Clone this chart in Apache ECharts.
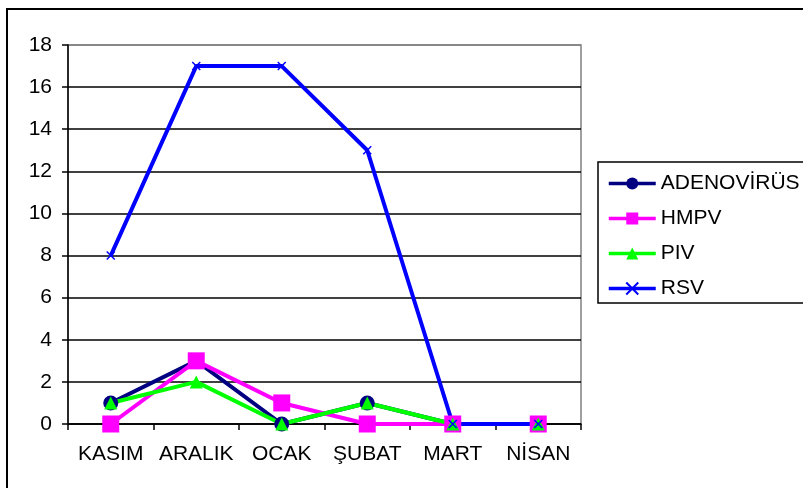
<!DOCTYPE html>
<html>
<head>
<meta charset="utf-8">
<script src="https://cdn.jsdelivr.net/npm/echarts@6/dist/echarts.min.js"></script>
<style>
  html, body { margin: 0; padding: 0; background: #fff; }
  #chart { width: 803px; height: 488px; }
</style>
</head>
<body>
<div id="chart"></div>
<script>
// Monthly virus counts
const months = ['KASIM', 'ARALIK', 'OCAK', 'ŞUBAT', 'MART', 'NİSAN'];
const adenovirus = [1, 3, 0, 1, 0, 0];
const hmpv = [0, 3, 1, 0, 0, 0];
const piv = [1, 2, 0, 1, 0, 0];
const rsv = [8, 17, 17, 13, 0, 0];
const yTicks = [0, 2, 4, 6, 8, 10, 12, 14, 16, 18];

const FONT = '"Liberation Sans", Arial, sans-serif';
const crossPath = 'path://M0,0L10,10M10,0L0,10';

const chart = echarts.init(document.getElementById('chart'), null, { renderer: 'canvas' });

function lineSeries(name, data, color, symbol, size, extraItem) {
  return {
    name: name,
    type: 'line',
    data: data,
    symbol: symbol,
    symbolSize: size,
    showAllSymbol: true,
    animation: false,
    lineStyle: { color: color, width: 4 },
    itemStyle: Object.assign({ color: color, borderWidth: 0 }, extraItem || {}),
    emphasis: { disabled: true }
  };
}

chart.setOption({
  backgroundColor: '#ffffff',
  animation: false,
  textStyle: { fontFamily: FONT },
  grid: {
    left: 68, right: 222, top: 45, bottom: 64,
    show: true, borderColor: '#808080', borderWidth: 1.5, backgroundColor: 'transparent'
  },
  graphic: [
    {
      type: 'rect', silent: true, z: -1,
      shape: { x: 7, y: 9, width: 900, height: 600 },
      style: { fill: 'none', stroke: '#000', lineWidth: 2 }
    },
    {
      type: 'rect', silent: true,
      shape: { x: 598, y: 162, width: 300, height: 141 },
      style: { fill: 'none', stroke: '#000', lineWidth: 1.5 }
    }
  ],
  legend: {
    orient: 'vertical',
    left: 607, top: 173,
    padding: 0,
    itemWidth: 47, itemHeight: 15, itemGap: 14,
    selectedMode: false,
    lineStyle: { width: 3.5 },
    textStyle: { fontFamily: FONT, fontSize: 21, color: '#000', lineHeight: 21, padding: [0, 0, 0, 0] },
    data: ['ADENOVİRÜS', 'HMPV', 'PIV', 'RSV']
  },
  xAxis: {
    type: 'category',
    data: months,
    boundaryGap: true,
    axisLine: { show: true, lineStyle: { color: '#000', width: 1.5 } },
    axisTick: { show: true, interval: 0, length: 6, lineStyle: { color: '#000', width: 1.5 } },
    axisLabel: { interval: 0, margin: 20, fontSize: 21, color: '#000', fontFamily: FONT },
    splitLine: { show: false }
  },
  yAxis: {
    type: 'value',
    min: yTicks[0], max: yTicks[yTicks.length - 1], interval: 2,
    axisLine: { show: true, lineStyle: { color: '#000', width: 1.5 } },
    axisTick: { show: true, length: 6, lineStyle: { color: '#000', width: 1.5 } },
    axisLabel: { margin: 16, fontSize: 21, color: '#000', fontFamily: FONT },
    splitLine: {
      show: true,
      lineStyle: {
        width: 1.5,
        color: ['#000', '#000', '#000', '#000', '#000', '#000', '#000', '#000', '#000', '#808080']
      }
    }
  },
  series: [
    lineSeries('ADENOVİRÜS', adenovirus, '#000080', 'circle', 15),
    lineSeries('HMPV', hmpv, '#FF00FF', 'rect', 17),
    lineSeries('PIV', piv, '#00FF00', 'triangle', 13),
    lineSeries('RSV', rsv, '#0000FF', crossPath, 8, { borderColor: '#0000FF', borderWidth: 1.5 })
  ]
});
</script>
</body>
</html>
